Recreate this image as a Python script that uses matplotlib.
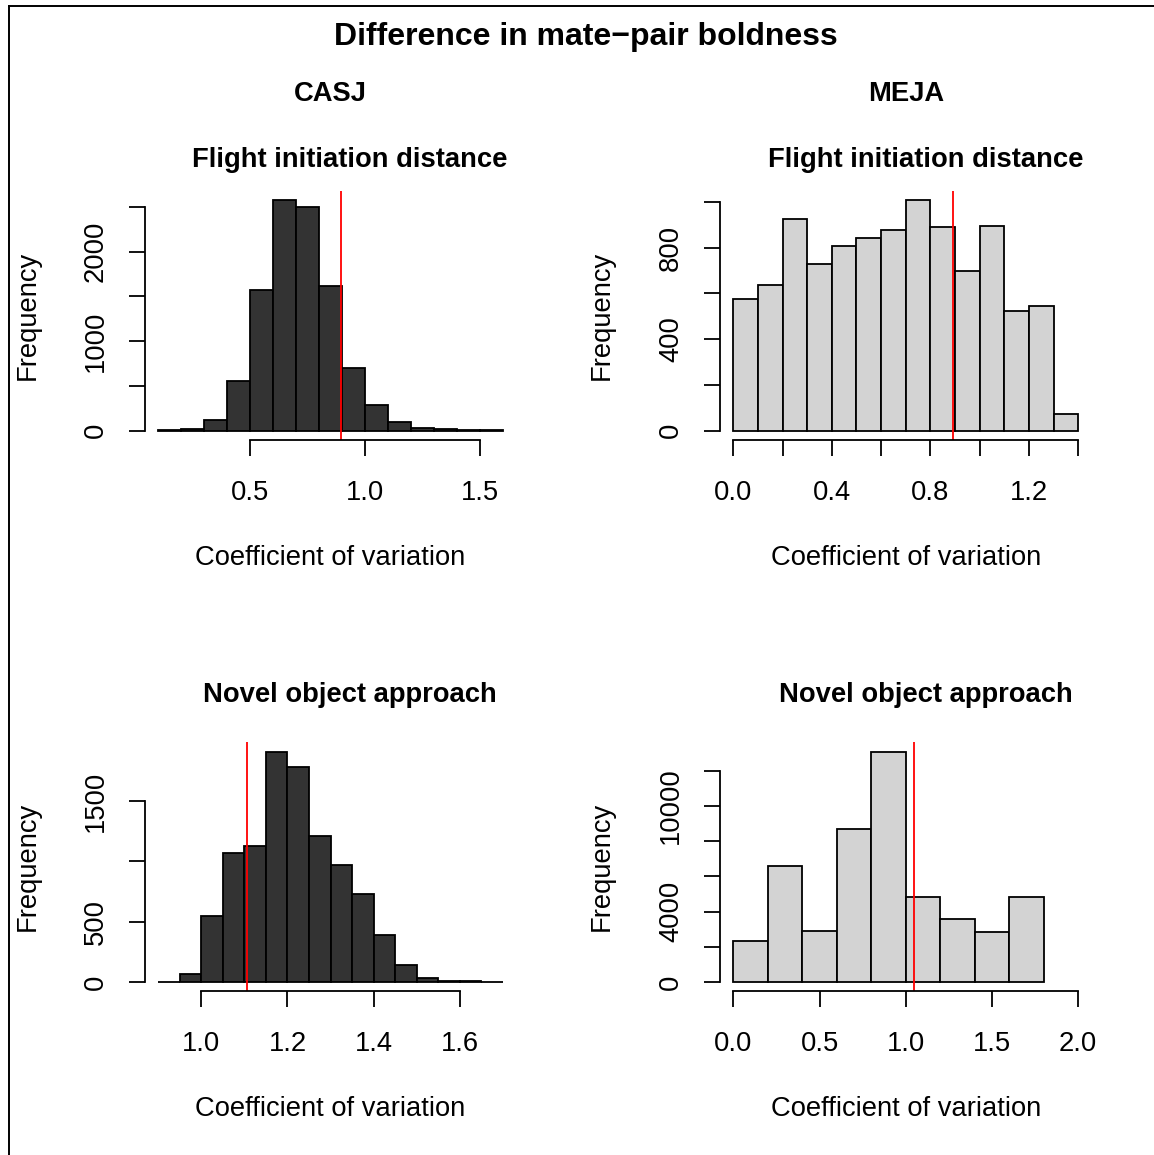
import matplotlib
matplotlib.use("Agg")
import matplotlib.pyplot as plt
from matplotlib.lines import Line2D
import numpy as np

plt.rcParams['font.family'] = ['Liberation Sans', 'DejaVu Sans']

# histogram counts
casj_fid_edges = np.arange(0.1, 1.6001, 0.1)
casj_fid_counts = [5, 20, 120, 560, 1571, 2578, 2493, 1612, 698, 284, 97, 30, 15, 7, 3]
casj_fid_obs = 0.897

meja_fid_edges = np.arange(0.0, 1.4001, 0.1)
meja_fid_counts = [577, 635, 924, 727, 807, 844, 877, 1009, 892, 697, 895, 525, 544, 73]
meja_fid_obs = 0.892

casj_noa_edges = np.arange(0.9, 1.7001, 0.05)
casj_noa_counts = [3, 69, 551, 1068, 1129, 1912, 1787, 1212, 971, 733, 387, 144, 36, 8, 5, 3]
casj_noa_obs = 1.107

meja_noa_edges = np.arange(0.0, 1.8001, 0.2)
meja_noa_counts = [2350, 6560, 2880, 8660, 13080, 4820, 3580, 2860, 4850]
meja_noa_obs = 1.049

W, H = 1154, 1155
fig = plt.figure(figsize=(W / 100, H / 100), dpi=100)
FS = 19.7
LW = 1.3

panels = [
    # edges, counts, obs, colour, xlim, xticks, xlabels shown, yticks, ylabels shown, axes rect
    (casj_fid_edges, casj_fid_counts, casj_fid_obs, '#333333', (0.1, 1.6),
     [0.5, 1.0, 1.5], [0.5, 1.0, 1.5],
     np.arange(0, 2501, 500), [0, 1000, 2000],
     [144.5, 190.5, 516.5, 440]),
    (meja_fid_edges, meja_fid_counts, meja_fid_obs, '#d3d3d3', (0.0, 1.4),
     np.round(np.arange(0, 1.41, 0.2), 1), [0.0, 0.4, 0.8, 1.2],
     np.arange(0, 1001, 200), [0, 400, 800],
     [719.5, 190.5, 1092, 440]),
    (casj_noa_edges, casj_noa_counts, casj_noa_obs, '#333333', (0.9, 1.7),
     [1.0, 1.2, 1.4, 1.6], [1.0, 1.2, 1.4, 1.6],
     np.arange(0, 1501, 500), [0, 500, 1500],
     [144.5, 742.4, 516.5, 991.2]),
    (meja_noa_edges, meja_noa_counts, meja_noa_obs, '#d3d3d3', (0.0, 2.0),
     [0.0, 0.5, 1.0, 1.5, 2.0], [0.0, 0.5, 1.0, 1.5, 2.0],
     np.arange(0, 12001, 2000), [0, 4000, 10000],
     [719.5, 742.4, 1092, 991.2]),
]

for edges, counts, obs, col, xl, xt, xlab, yt, ylab, r in panels:
    x0, y0, x1, y1 = r
    ax = fig.add_axes([x0 / W, 1 - y1 / H, (x1 - x0) / W, (y1 - y0) / H])
    ax.bar(edges[:-1], counts, width=np.diff(edges), align='edge',
           color=col, edgecolor='black', linewidth=LW)
    ax.axvline(obs, color='red', linewidth=1.3)
    dx = (xl[1] - xl[0]) * 0.04
    ax.set_xlim(xl[0] - dx, xl[1] + dx)
    m = max(counts)
    ax.set_ylim(-0.04 * m, 1.04 * m)
    for s in ['top', 'right']:
        ax.spines[s].set_visible(False)
    ax.spines['left'].set_bounds(yt[0], yt[-1])
    ax.spines['bottom'].set_bounds(xt[0], xt[-1])
    ax.spines['left'].set_linewidth(LW)
    ax.spines['bottom'].set_linewidth(LW)
    ax.set_xticks(xt)
    ax.set_xticklabels(['%.1f' % v if any(abs(v - u) < 1e-9 for u in xlab) else ''
                        for v in xt])
    ax.set_yticks(yt)
    ax.set_yticklabels([str(v) if v in ylab else '' for v in yt],
                       rotation=90, va='center')
    ax.tick_params(length=11.5, width=LW, labelsize=FS, direction='out')
    ax.tick_params(axis='x', pad=17)
    ax.tick_params(axis='y', pad=14)
    ax.set_xlabel('Coefficient of variation', fontsize=FS)
    ax.set_ylabel('Frequency', fontsize=FS)
    ax.xaxis.set_label_coords(0.5, -0.42)
    ax.yaxis.set_label_coords(-0.28, 0.5)

fig.text(586 / W, 1 - 45 / H, 'Difference in mate\u2212pair boldness',
         ha='center', va='baseline', fontsize=23, fontweight='bold')
fig.text(330.5 / W, 1 - 101 / H, 'CASJ', ha='center', va='baseline',
         fontsize=FS, fontweight='bold')
fig.text(905.75 / W, 1 - 101 / H, 'MEJA', ha='center', va='baseline',
         fontsize=FS, fontweight='bold')
for xc in [349.5, 925.5]:
    fig.text(xc / W, 1 - 167 / H, 'Flight initiation distance', ha='center',
             va='baseline', fontsize=FS, fontweight='bold')
    fig.text(xc / W, 1 - 702 / H, 'Novel object approach', ha='center',
             va='baseline', fontsize=FS, fontweight='bold')

# frame left over from the original device
fig.add_artist(Line2D([8.5 / W, 8.5 / W], [0, 1 - 5.5 / H], color='black',
                      linewidth=1.4, transform=fig.transFigure))
fig.add_artist(Line2D([8.5 / W, 1], [1 - 5.5 / H, 1 - 5.5 / H], color='black',
                      linewidth=1.4, transform=fig.transFigure))

fig.savefig('out.png', dpi=100)
